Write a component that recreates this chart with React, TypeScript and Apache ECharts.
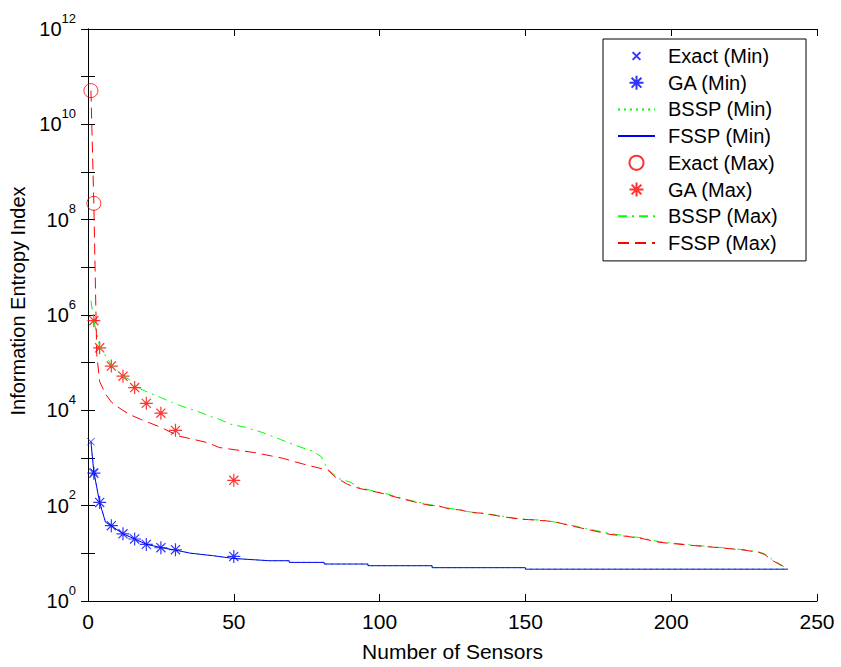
import React, { useEffect, useRef } from 'react';
import * as echarts from 'echarts';

const FONT = '"Liberation Sans", Arial, Helvetica, sans-serif';

// Exact (Min)
const exactMinX = [1, 2];
const exactMinY = [2200, 510];
// GA (Min)
const gaMinX = [2, 4, 8, 12, 16, 20, 25, 30, 50];
const gaMinY = [480, 117, 38, 25.7, 20, 15.4, 13.1, 11.9, 8.6];
// BSSP (Min) (hidden under FSSP (Min))
const bsspMinX = [1, 2, 4, 6, 8, 12, 16, 20, 25, 30, 35, 43, 50, 59, 62, 69, 69, 81, 81, 96, 96, 118, 118, 150, 150, 240];
const bsspMinY = [2200, 510, 117, 45, 38, 25.7, 20, 15.5, 13.2, 11.7, 10.1, 8.9, 7.8, 7.2, 7.0, 7.0, 6.46, 6.46, 5.96, 5.96, 5.5, 5.5, 5.0, 5.0, 4.65, 4.65];
// FSSP (Min)
const fsspMinX = [1, 2, 4, 6, 8, 12, 16, 20, 25, 30, 35, 43, 50, 59, 62, 69, 69, 81, 81, 96, 96, 118, 118, 150, 150, 240];
const fsspMinY = [2200, 510, 117, 45, 38, 25.7, 20, 15.5, 13.2, 11.7, 10.1, 8.9, 7.8, 7.2, 7.0, 7.0, 6.46, 6.46, 5.96, 5.96, 5.5, 5.5, 5.0, 5.0, 4.65, 4.65];
// Exact (Max)
const exactMaxX = [1, 2];
const exactMaxY = [5.1e10, 2.2e8];
// GA (Max)
const gaMaxX = [2, 4, 8, 12, 16, 20, 25, 30, 50];
const gaMaxY = [7.6e5, 2.05e5, 8.5e4, 5.2e4, 3.0e4, 1.4e4, 8.7e3, 3.8e3, 340];
// BSSP (Max)
const bsspMaxX = [1, 2, 4, 8, 12, 14, 18, 25, 29, 32, 37, 43, 45, 49, 54, 60, 66, 71, 74, 77, 80, 82, 86, 90, 93, 97, 102, 108, 117, 124, 131, 140, 148, 157, 164, 171, 179, 190, 196, 208, 216, 225, 230, 232, 235, 240];
const bsspMaxY = [2e6, 7.6e5, 2.2e5, 9e4, 5.2e4, 4.5e4, 2.8e4, 1.85e4, 1.45e4, 1.23e4, 9.8e3, 7.1e3, 6.5e3, 5.1e3, 4.4e3, 3.4e3, 2.45e3, 1.86e3, 1.6e3, 1.4e3, 1.07e3, 600, 370, 310, 240, 210, 180, 140, 105, 88, 74, 63, 53, 49, 41, 33, 26, 21, 17.5, 14.8, 13.4, 11.9, 10.7, 9.8, 7.2, 4.7];
// FSSP (Max)
const fsspMaxX = [1, 2, 3, 4, 6, 8, 10, 14, 18, 21, 25, 31, 41, 45, 57, 63, 67, 71, 74, 80, 82, 85, 89, 93, 97, 102, 104, 108, 112, 117, 120, 124, 128, 131, 136, 140, 142, 148, 151, 157, 160, 164, 171, 179, 185, 190, 196, 208, 216, 225, 230, 232, 235, 240];
const fsspMaxY = [5.1e10, 2.2e8, 1.5e5, 4e4, 2.2e4, 1.5e4, 1.2e4, 8.3e3, 6.5e3, 5.5e3, 4.4e3, 2.9e3, 2.1e3, 1.66e3, 1.3e3, 1.1e3, 980, 830, 740, 600, 575, 390, 280, 230, 205, 175, 160, 138, 120, 102, 100, 85, 81, 72, 69, 62, 59, 52, 51, 48, 46, 40, 32, 25, 22.6, 20.4, 17, 14.5, 13.2, 11.7, 10.5, 9.5, 6.9, 4.7];

const legendNames = ['Exact (Min)', 'GA (Min)', 'BSSP (Min)', 'FSSP (Min)', 'Exact (Max)', 'GA (Max)', 'BSSP (Max)', 'FSSP (Max)'];
const lineNames = ['BSSP (Min)', 'FSSP (Min)', 'BSSP (Max)', 'FSSP (Max)'];
const xTicks = { min: 0, max: 250, interval: 50 };
const yRange = { min: 1, max: 1e12, interval: 1 };

const zip = (xs: number[], ys: number[]) => xs.map((x, i) => [x, ys[i]]);

const BLUE = '#0000ff';
const RED = '#ff0000';
const GREEN = '#00ff00';

const X_MARK = 'path://M-4,-4L-4,-4M14,14L14,14M0,0L10,10M10,0L0,10';
const STAR = 'path://M5,0L5,10M0,5L10,5M1.5,1.5L8.5,8.5M8.5,1.5L1.5,8.5';

function scatter(name: string, data: number[][], symbol: string, size: number, color: string, bw = 1) {
  return {
    name,
    type: 'scatter',
    data,
    symbol,
    symbolSize: size,
    itemStyle: { color: 'rgba(0,0,0,0)', borderColor: color, borderWidth: bw },
    emphasis: { disabled: true },
    silent: true,
  };
}

function line(name: string, data: number[][], color: string, type: any) {
  return {
    name,
    type: 'line',
    data,
    symbol: 'none',
    showSymbol: false,
    lineStyle: { color, width: 1, type },
    itemStyle: { color },
    emphasis: { disabled: true },
    silent: true,
  };
}

export default function App() {
  const ref = useRef<HTMLDivElement>(null);
  useEffect(() => {
    const chart = echarts.init(ref.current!, null, { renderer: 'svg' });
    const axisCommon = {
      axisLine: { show: true, lineStyle: { color: '#000', width: 1 } },
      axisTick: { show: true, inside: true, length: 7, lineStyle: { color: '#000', width: 1 } },
      splitLine: { show: false },
    };
    const yLabelFormatter = (v: number) => {
      const e = Math.round(Math.log10(v));
      if (e % 2 !== 0) return '';
      return `{b|10}{e|${e}}`;
    };
    chart.setOption({
      animation: false,
      backgroundColor: '#fff',
      textStyle: { fontFamily: FONT },
      grid: { left: 88, top: 29, width: 729, height: 573, containLabel: false },
      xAxis: [
        {
          type: 'value',
          ...xTicks,
          position: 'bottom',
          ...axisCommon,
          axisLabel: { fontSize: 21, color: '#000', fontFamily: FONT, margin: 10 },
          name: 'Number of Sensors',
          nameLocation: 'middle',
          nameGap: 40,
          nameTextStyle: { fontSize: 21, color: '#000', fontFamily: FONT },
        },
        {
          type: 'value',
          ...xTicks,
          position: 'top',
          ...axisCommon,
          axisLabel: { show: false },
        },
      ],
      yAxis: [
        {
          type: 'log',
          logBase: 10,
          ...yRange,
          position: 'left',
          ...axisCommon,
          axisLabel: {
            color: '#000',
            margin: 12,
            formatter: yLabelFormatter,
            rich: {
              b: { fontSize: 20, fontFamily: FONT, color: '#000', lineHeight: 20 },
              e: { fontSize: 13, fontFamily: FONT, color: '#000', lineHeight: 13, padding: [0, 0, 22, 0] },
            },
          },
          name: 'Information Entropy Index',
          nameLocation: 'middle',
          nameGap: 58,
          nameTextStyle: { fontSize: 20, color: '#000', fontFamily: FONT, padding: [0, 0, 0, 28] },
        },
        {
          type: 'log',
          logBase: 10,
          ...yRange,
          position: 'right',
          ...axisCommon,
          axisLabel: { show: false },
        },
      ],
      legend: {
        orient: 'vertical',
        left: 603,
        top: 39,
        backgroundColor: '#fff',
        borderColor: '#000',
        borderWidth: 1,
        borderRadius: 0,
        padding: [7, 28, 8, 14],
        itemGap: 6.7,
        itemWidth: 37,
        itemHeight: 14,
        selectedMode: false,
        textStyle: { fontSize: 20, fontFamily: FONT, color: '#000', lineHeight: 20, padding: [0, 0, 0, 8] },
        data: legendNames.map((n) =>
          lineNames.includes(n)
            ? { name: n, itemStyle: { color: 'rgba(0,0,0,0)', borderWidth: 0, opacity: 0 } }
            : { name: n }
        ),
      },
      series: [
        scatter(legendNames[0], zip(exactMinX, exactMinY), X_MARK, 13, BLUE),
        scatter(legendNames[1], zip(gaMinX, gaMinY), STAR, 13, BLUE, 1.2),
        line(legendNames[2], zip(bsspMinX, bsspMinY), GREEN, [2, 4]),
        line(legendNames[3], zip(fsspMinX, fsspMinY), BLUE, 'solid'),
        scatter(legendNames[4], zip(exactMaxX, exactMaxY), 'circle', 14, RED),
        scatter(legendNames[5], zip(gaMaxX, gaMaxY), STAR, 13, RED, 1.2),
        line(legendNames[6], zip(bsspMaxX, bsspMaxY), GREEN, [9, 5, 2, 5]),
        line(legendNames[7], zip(fsspMaxX, fsspMaxY), RED, [11, 6]),
      ],
    });
    return () => chart.dispose();
  }, []);
  return (
    <div
      ref={ref}
      style={{ position: 'fixed', left: 0, top: 0, width: 841, height: 667, background: '#fff' }}
    />
  );
}
